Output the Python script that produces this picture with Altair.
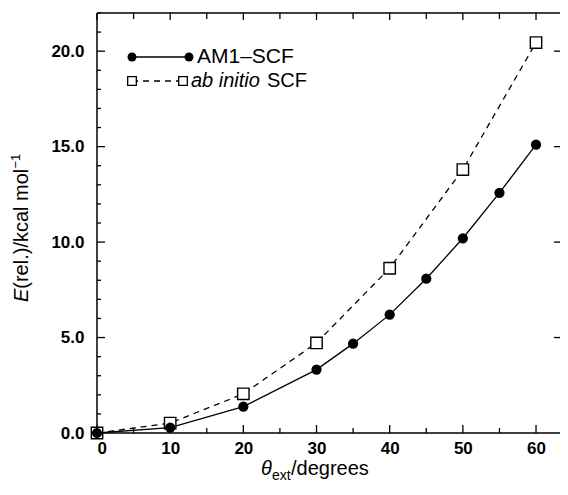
import altair as alt
import pandas as pd

# ---- data ----
am1_theta = [0, 10, 20, 30, 35, 40, 45, 50, 55, 60]
am1_energy = [0.0, 0.28, 1.38, 3.32, 4.68, 6.2, 8.08, 10.2, 12.58, 15.1]
abinitio_theta = [0, 10, 20, 30, 40, 50, 60]
abinitio_energy = [0.0, 0.52, 2.05, 4.72, 8.63, 13.8, 20.45]

x_major = [0, 10, 20, 30, 40, 50, 60]
x_minor = [5, 15, 25, 35, 45, 55]
y_major = [0, 5, 10, 15, 20]
y_minor = [v for v in range(0, 23) if v % 5 != 0]

W, H = 463, 420
XPX = 7.317            # pixels per degree
YPX = H / 22.0         # pixels per kcal/mol
XMAX = W / XPX
FONT = "Liberation Sans"

am1 = pd.DataFrame({"theta": am1_theta, "E": am1_energy})
abi = pd.DataFrame({"theta": abinitio_theta, "E": abinitio_energy})
one = pd.DataFrame({"k": [0]})

xs = alt.Scale(domain=[0, XMAX], nice=False, zero=False)
ys = alt.Scale(domain=[0, 22], nice=False)

x_axis = alt.Axis(orient="bottom", values=x_major, format="d", ticks=False, domain=False,
                  grid=False, title=None, labelFontSize=17, labelFontWeight="bold",
                  labelFont=FONT, labelColor="black", labelPadding=7)
y_axis = alt.Axis(orient="left", values=y_major, format=".1f", ticks=False, domain=False,
                  grid=False, title=None, labelFontSize=17, labelFontWeight="bold",
                  labelFont=FONT, labelColor="black", labelPadding=13)

enc_axes = dict(x=alt.X("theta:Q", scale=xs, axis=x_axis), y=alt.Y("E:Q", scale=ys, axis=y_axis))
enc = dict(x=alt.X("theta:Q", scale=xs, axis=None), y=alt.Y("E:Q", scale=ys, axis=None))

am1_line = alt.Chart(am1).mark_line(color="black", strokeWidth=1.3).encode(**enc_axes)
am1_pts = alt.Chart(am1).mark_point(shape="circle", filled=True, color="black",
                                    size=105, opacity=1).encode(**enc)
abi_line = alt.Chart(abi).mark_line(color="black", strokeWidth=1.3,
                                    strokeDash=[6, 5]).encode(**enc)
abi_pts = alt.Chart(abi).mark_point(shape="square", filled=True, fill="white",
                                    stroke="black", strokeWidth=1.4, size=130,
                                    opacity=1).encode(**enc)

# ---- all inward ticks in two tables, drawn through the scales ----
xt_rows = []
for v in x_major:
    xt_rows += [dict(v=v, a=0.0, b=8 / YPX), dict(v=v, a=22.0, b=22.0 - 7 / YPX)]
for v in x_minor:
    xt_rows += [dict(v=v, a=0.0, b=5 / YPX), dict(v=v, a=22.0, b=22.0 - 6 / YPX)]
yt_rows = []
for v in y_major:
    yt_rows.append(dict(v=v, a=0.0, b=8 / XPX))
    if v > 0:
        yt_rows.append(dict(v=v, a=XMAX, b=XMAX - 6 / XPX))
for v in y_minor:
    yt_rows.append(dict(v=v, a=0.0, b=4 / XPX))

xtick_layer = alt.Chart(pd.DataFrame(xt_rows)).mark_rule(color="black", strokeWidth=1.3).encode(
    x=alt.X("v:Q", scale=xs, axis=None),
    y=alt.Y("a:Q", scale=ys, axis=None), y2="b:Q")
ytick_layer = alt.Chart(pd.DataFrame(yt_rows)).mark_rule(color="black", strokeWidth=1.3).encode(
    y=alt.Y("v:Q", scale=ys, axis=None),
    x=alt.X("a:Q", scale=xs, axis=None), x2="b:Q")

frame = [
    alt.Chart(one).mark_rule(color="black", strokeWidth=1.5).encode(
        x=alt.value(0), y=alt.value(0), y2=alt.value(H)),
    alt.Chart(one).mark_rule(color="black", strokeWidth=1.5).encode(
        x=alt.value(0), x2=alt.value(W), y=alt.value(0)),
    alt.Chart(one).mark_rule(color="black", strokeWidth=1.5).encode(
        x=alt.value(0), x2=alt.value(W), y=alt.value(H)),
]


def txt(s, x, y, size=20, style="normal", angle=0, align="left", baseline="alphabetic"):
    return alt.Chart(one).mark_text(
        font=FONT, fontSize=size, fontStyle=style, color="black", fill="black",
        angle=angle, align=align, baseline=baseline,
    ).encode(x=alt.value(x), y=alt.value(y), text=alt.value(s))


# legend (chart coordinates: origin at plot top-left)
L1y, L2y = 44, 68
leg = [
    alt.Chart(one).mark_rule(color="black", strokeWidth=1.3).encode(
        x=alt.value(35), x2=alt.value(92), y=alt.value(L1y)),
    alt.Chart(one).mark_point(shape="circle", filled=True, color="black", size=80,
                              opacity=1).encode(x=alt.value(35), y=alt.value(L1y)),
    alt.Chart(one).mark_point(shape="circle", filled=True, color="black", size=80,
                              opacity=1).encode(x=alt.value(92), y=alt.value(L1y)),
    txt("AM1\u2013SCF", 100, L1y, size=21, baseline="middle"),
    alt.Chart(one).mark_rule(color="black", strokeWidth=1.3, strokeDash=[6, 5]).encode(
        x=alt.value(35), x2=alt.value(86), y=alt.value(L2y)),
    alt.Chart(one).mark_point(shape="square", filled=True, fill="white", stroke="black",
                              strokeWidth=1.3, size=75, opacity=1).encode(
        x=alt.value(35), y=alt.value(L2y)),
    alt.Chart(one).mark_point(shape="square", filled=True, fill="white", stroke="black",
                              strokeWidth=1.3, size=75, opacity=1).encode(
        x=alt.value(86), y=alt.value(L2y)),
    txt("ab initio", 94, L2y, size=20, style="italic", baseline="middle"),
    txt("SCF", 94 + 76, L2y, size=20, baseline="middle"),
]

# axis titles
titles = [
    txt("\u03b8", 164, 462, style="italic"),
    txt("ext", 175, 467, size=14),
    txt("/degrees", 194, 462),
    txt("E", -69, 289, style="italic", angle=270),
    txt("(rel.)/kcal mol", -69, 275.7, angle=270),
    txt("\u22121", -77, 155.5, size=13, angle=270),
]

chart = alt.layer(
    abi_line, am1_line, abi_pts, am1_pts,
    *frame, xtick_layer, ytick_layer, *leg, *titles,
).resolve_axis(x="independent", y="independent").properties(
    width=W, height=H,
    autosize=alt.AutoSizeParams(type="none"),
    padding={"left": 89, "top": 5, "right": 0, "bottom": 50},
).configure_view(stroke=None).configure_axis(grid=False)

chart.save("out.html", embed_options={"renderer": "svg", "actions": False})
